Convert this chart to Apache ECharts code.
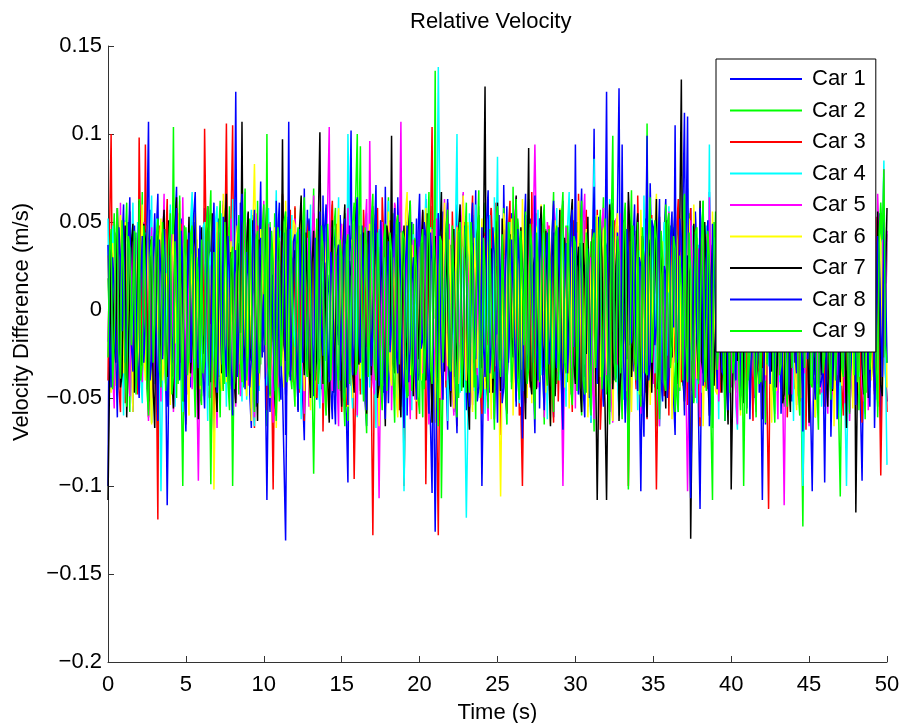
<!DOCTYPE html>
<html><head><meta charset="utf-8">
<script src="https://cdn.jsdelivr.net/npm/echarts@6/dist/echarts.min.js"></script>
<style>html,body{margin:0;padding:0;background:#fff}#c{width:905px;height:723px}</style>
</head><body><div id="c"></div>
<script>
// sampling step of the time axis (s)
const DT = 0.1;
const seriesNames = ['Car 1','Car 2','Car 3','Car 4','Car 5','Car 6','Car 7','Car 8','Car 9'];
const seriesColors = ['#0000ff','#00ff00','#ff0000','#00ffff','#ff00ff','#ffff00','#000000','#0000ff','#00ff00'];
const yTickLabels = ['\u22120.2','\u22120.15','\u22120.1','\u22120.05','0','0.05','0.1','0.15'];

// velocity differences (m/s), one value every DT seconds from t = 0 to t = 50
const car1 = [
-.100,.040,.021,-.008,-.035,.022,.048,-.030,-.012,.037,.060,-.019,-.042,.050,.015,-.024,-.058,.006,.033,-.045,
.005,.028,-.027,.013,.052,-.017,-.046,.057,.038,-.033,-.008,.044,.066,-.012,-.030,.025,.012,-.041,-.055,.010,
.041,-.006,-.018,.049,.070,-.028,-.039,.052,.024,-.036,-.063,.031,.009,-.044,.047,.004,-.022,-.009,.035,.021,
-.049,.012,.058,-.033,-.006,.045,.028,-.050,-.071,.009,.044,-.038,-.015,.030,.062,-.015,-.037,.047,.019,-.027,
-.052,.018,.124,-.020,-.033,.061,.040,-.023,-.011,.033,.055,-.048,-.067,.008,.026,-.055,-.040,.032,.073,-.012,
-.024,.039,.014,-.037,-.058,.020,.037,-.026,-.009,.044,.061,-.029,-.045,-.088,-.131,-.010,.030,.051,-.016,.008,
.049,-.014,-.036,.043,.022,-.051,-.074,.019,.057,-.030,-.003,.026,.042,-.017,-.051,.034,.018,-.045,.065,-.011,
-.029,.020,.008,-.046,-.062,.035,.046,-.008,-.020,.054,.034,-.025,-.047,-.060,-.098,.040,.102,-.034,-.013,.046,
.053,-.018,-.040,.035,.027,-.052,-.066,.024,.011,-.040,.059,.016,-.032,-.006,.045,.042,-.019,-.047,.070,-.008,
-.053,-.012,.031,.045,-.007,-.033,.064,.019,-.043,-.055,.017,.028,-.060,-.014,.038,.050,-.025,-.003,.052,-.040,
-.036,.033,.007,-.029,.063,-.020,-.048,-.066,-.104,.037,.029,-.012,.055,-.018,-.021,.056,.041,-.035,-.068,.022,
.016,-.030,-.039,.020,.060,-.043,-.012,.041,.047,-.009,-.057,.048,.023,-.038,-.030,.009,.068,-.052,-.044,-.016,
-.100,-.038,.035,.024,-.005,-.047,.058,.018,-.062,-.031,.020,.054,-.026,-.044,.071,.015,-.041,-.027,.010,.055,
.049,-.011,-.055,.046,.032,-.029,-.017,.040,.066,-.020,-.034,.052,.004,-.037,-.070,.018,.043,-.056,-.009,.030,
.056,-.020,-.046,.036,.025,-.043,-.061,.013,.038,-.032,-.014,.048,.062,-.022,-.028,.040,.013,-.040,-.052,.011,
.045,-.004,-.023,.040,.069,-.016,-.038,.052,.021,-.032,-.064,.020,.103,-.018,-.031,.043,.050,-.028,-.011,.039,
.036,-.027,-.058,.015,.061,-.040,-.020,.058,.126,-.012,-.042,.027,.018,-.048,-.067,.010,.047,-.035,-.006,.037,
.054,-.040,-.103,-.018,.030,.052,-.035,-.010,.072,.029,-.016,-.044,.040,.021,-.059,-.030,.009,.045,.063,-.038,
-.045,.031,.024,-.050,-.071,.020,.052,-.034,-.013,.059,.112,-.020,-.037,.042,.058,-.006,-.024,.056,.033,-.060,
-.113,-.025,.046,.029,-.008,-.042,.067,.017,-.050,-.019,.015,.048,-.033,-.010,.059,.021,-.063,-.038,.028,.042,
-.018,.044,.071,-.016,-.039,.048,.006,-.030,.055,.017,-.056,-.024,.037,.061,-.027,-.050,.064,.021,-.047,-.030,
.012,.050,-.065,-.012,.048,.036,-.010,-.046,.060,.021,-.036,-.015,.026,.049,-.054,-.028,.043,.015,-.021,-.052,
.069,.030,-.043,-.049,.019,.032,-.060,-.034,.051,.017,-.030,-.058,-.103,-.028,.038,.051,-.015,-.040,.062,.020,
-.049,-.013,.027,.044,-.072,-.030,.044,.052,-.005,-.043,.057,.019,-.038,-.053,.016,.048,-.058,-.040,.066,.023,
-.024,.047,.035,-.056,-.097,-.020,.050,.028,-.011,-.044,.063,.011,-.046,-.021,.022,.055,-.066,-.012,.041,-.036,
-.052];
const car2 = [
.018,-.009,-.032,.030,.055,-.022,-.047,.018,.026,-.041,-.013,.036,.061,-.014,-.058,.043,.009,-.027,.044,.015,
-.036,.025,.067,-.030,-.021,.048,.039,-.018,-.064,.033,.014,-.038,.052,.009,-.041,-.015,.030,.046,-.009,-.021,
.057,-.002,.104,-.026,-.050,.045,.022,-.041,-.100,-.012,.047,.021,-.026,-.038,.063,.014,-.035,.040,.011,-.048,
-.054,.019,.041,-.030,-.007,.047,.068,-.019,-.043,.050,.024,-.033,-.061,.012,.036,-.042,-.015,.031,.059,-.014,
-.100,-.025,.033,.010,-.048,.039,.070,-.044,-.019,.024,.045,-.031,-.056,.054,.012,-.026,.062,-.008,-.031,.045,
.027,-.021,-.066,.042,.050,-.018,-.004,.055,.038,-.028,-.052,.037,.065,-.010,-.023,.050,.016,-.036,-.045,.020,
.058,-.015,-.037,.044,.021,-.026,-.060,.035,.043,-.048,-.011,.022,.069,-.013,-.034,.040,.007,-.029,-.057,.018,
.048,-.038,-.028,.026,.060,-.020,-.049,.042,.032,-.046,-.018,.034,.055,-.029,-.063,.011,.019,-.051,.040,.065,
.100,-.017,-.046,.038,.025,-.044,-.070,.017,.041,-.033,-.008,.045,.057,-.022,-.030,.051,.014,-.036,-.053,.028,
.064,-.011,-.040,.055,.035,-.040,-.022,.014,.068,-.030,-.055,.042,.010,-.049,-.037,.020,.049,-.027,-.012,.039,
.031,-.024,-.061,.017,.046,-.040,-.027,.044,.059,-.005,.136,-.052,-.044,.046,-.107,-.038,.052,.027,-.019,-.045,
.037,-.016,-.058,.036,.020,-.050,-.033,.027,.066,-.041,-.047,.022,.013,-.036,.054,-.010,-.062,.044,.028,-.020,
-.014,.040,.061,-.023,-.039,.050,.023,-.033,-.068,.018,.044,-.045,-.006,.028,.058,-.036,-.050,.012,.017,-.041,
.070,-.026,-.032,.052,.040,-.017,-.057,.035,.009,-.044,.063,.021,-.045,-.040,.026,.055,-.020,-.033,.055,-.019,
-.065,.046,.034,-.028,-.011,.039,.067,-.018,-.042,.042,.018,-.035,-.053,.020,.048,-.041,-.029,.028,.061,-.015,
-.036,.050,.015,-.033,-.060,.018,.051,-.047,-.024,.027,.039,-.016,-.069,.053,.029,-.039,-.003,.033,.064,-.022,
-.048,.030,.022,-.042,.057,-.015,-.038,.048,.012,-.036,-.062,.022,.045,-.050,-.017,.029,.068,-.011,-.031,.045,
.036,-.015,-.054,.043,.008,-.037,.106,-.020,-.044,.050,.027,-.032,-.066,.017,.050,-.043,-.021,.031,.060,-.040,
-.039,.048,.019,-.031,-.058,.022,.047,-.046,-.012,.037,.065,-.015,-.034,.055,.030,-.040,-.052,.021,.041,-.028,
-.005,.044,.062,-.023,-.046,.032,.024,-.062,-.108,.020,.056,-.037,-.028,.049,.038,-.021,-.063,.035,.014,-.043,
.053,.018,-.035,-.047,.069,.028,-.019,-.040,.033,.051,-.059,-.022,.046,.033,-.009,-.045,.061,.020,-.042,-.027,
.028,.041,-.064,-.020,.044,.055,-.025,-.038,.057,.019,-.047,-.033,.012,.048,-.055,-.024,.067,.040,-.030,-.013,
.039,-.044,-.016,.025,.060,-.055,-.123,-.015,.022,.042,-.040,-.018,.052,.031,-.061,-.024,.035,.050,-.007,-.036,
.066,.024,-.050,-.039,.018,.045,-.033,-.022,.058,-.060,-.106,-.030,.041,.055,-.014,-.047,.063,.021,-.045,-.013,
.025,.052,-.057,-.032,.048,.040,-.022,-.047,.070,.024,-.038,-.028,.011,.051,-.061,-.018,.054,.036,-.027,-.010,
.043];
const car3 = [
-.040,.045,.100,-.016,-.022,.030,.047,-.044,-.058,.018,.031,-.053,-.009,.025,.056,-.015,-.044,.041,.020,-.048,
.098,.030,-.035,-.022,.094,.012,-.061,-.040,.027,-.045,-.013,-.030,-.119,.048,.042,-.019,-.026,.036,.063,-.012,
-.049,.024,.015,-.041,.058,-.018,-.033,.049,.039,-.032,-.065,.040,.021,-.023,-.007,.055,.050,-.028,-.054,.022,
.034,-.021,.103,.038,-.046,-.050,.025,.014,-.062,-.039,.044,.027,-.018,-.045,.060,.033,.106,-.010,-.037,.052,
.105,-.022,-.051,.030,.029,-.045,-.012,.020,.064,-.027,-.041,.046,.017,-.036,-.067,.012,.048,-.042,-.023,.031,
.038,-.018,-.057,.050,.010,-.035,-.102,-.020,.053,.038,-.030,-.012,.066,.040,-.045,-.026,.022,.057,-.008,-.041,
.059,.020,-.036,-.047,.031,.039,-.063,-.024,.045,.051,-.016,-.030,.055,.036,-.050,-.013,.024,.042,-.069,-.020,
.041,-.038,-.027,.046,.062,-.027,-.014,.049,.036,-.021,-.058,.037,.019,-.055,.068,.012,-.043,-.024,-.096,-.040,
.032,.048,-.048,-.029,.057,.036,-.021,-.010,.012,-.046,-.128,-.030,.046,.058,-.034,-.019,.064,.040,-.055,-.033,
.026,.051,-.003,-.020,.060,.044,-.040,-.057,.018,.028,-.100,-.041,.050,.016,-.025,-.049,.039,.035,-.062,-.012,
.014,-.019,.056,.028,-.099,-.024,.035,.045,.104,-.026,-.038,-.060,-.128,-.019,.043,.036,-.017,-.044,.061,.020,
-.047,.056,.023,-.039,-.066,.031,.052,-.018,-.009,.050,.037,-.024,-.056,.042,.065,-.037,-.029,.019,.011,-.045,
-.059,.033,.044,-.012,-.020,.047,.058,-.022,-.035,.061,.028,-.038,-.071,.020,.049,-.030,-.013,.045,.062,-.018,
-.042,-.027,.018,.043,-.060,-.055,-.100,-.030,.040,.016,-.024,-.044,.067,.024,-.052,-.015,.030,.052,-.006,-.033,
.054,-.021,-.039,.048,.021,-.036,-.064,.020,.045,-.052,-.015,.030,.060,-.017,-.046,.044,.033,-.027,-.058,.051,
.013,-.040,.066,.023,-.031,-.012,.042,.057,-.055,-.034,.025,.046,-.011,-.029,.057,.015,-.068,-.045,.036,.020,
-.022,.039,.061,-.020,-.044,.051,.019,-.033,-.057,.017,.048,-.047,-.008,.041,-.100,-.038,.034,.020,-.027,-.045,
.065,.022,-.049,-.035,.015,.048,-.062,-.025,.040,.054,-.018,-.028,-.102,-.040,.053,.016,-.035,-.049,.029,.037,
-.060,.024,.046,-.030,-.012,.045,.063,-.019,-.041,.051,.024,-.036,-.054,.028,.058,-.046,-.019,.014,.037,-.042,
-.066,.038,.020,-.044,-.030,.025,.052,-.012,-.047,.040,.014,-.026,.068,-.047,-.038,.055,.027,-.020,-.056,.034,
.043,-.027,-.009,.045,.061,-.018,-.050,.037,.032,-.044,-.024,.016,.057,-.030,-.063,.050,.011,-.035,.048,-.021,
-.033,.017,.066,-.050,-.113,-.026,.039,.050,-.016,-.037,.055,.022,-.045,-.014,.021,.044,-.061,-.030,.036,.053,
-.007,-.045,.059,.027,-.052,-.030,.028,.051,-.068,-.019,.044,.036,-.026,-.041,.062,.015,-.039,-.048,.017,.040,
-.055,.026,.050,-.039,-.014,.052,.067,-.018,-.043,.033,.030,-.044,-.060,.020,.038,-.036,-.021,.049,.056,-.019,
-.034,.047,.025,-.037,-.064,.016,.047,-.020,-.011,.044,.060,-.027,-.048,.053,.022,-.030,-.094,-.036,.041,-.020,
-.058];
const car4 = [
.052,-.020,-.029,.048,.014,-.038,-.047,.027,.038,-.014,-.060,.044,.023,-.041,-.011,.031,.061,-.013,-.035,.050,
.019,-.037,-.053,.020,.044,-.045,-.020,.035,.065,-.019,-.042,.052,.030,-.030,-.103,-.040,.048,.030,-.016,-.047,
.060,.022,-.039,-.055,.007,.039,.055,-.033,-.058,.044,.026,-.014,-.031,.050,.067,-.021,-.046,.035,.012,-.040,
-.024,.047,.050,-.018,-.063,.025,.033,-.040,-.009,.051,.059,-.022,-.037,.055,.041,-.013,-.055,.031,.018,-.043,
.063,-.036,-.028,.041,.045,-.017,-.052,.038,.022,-.051,-.014,.027,.057,-.040,-.066,.012,.035,-.046,-.003,.029,
.049,-.020,-.043,.058,.016,-.039,-.059,.022,.068,-.036,-.032,.045,.028,-.014,-.048,.053,.011,-.030,.054,-.012,
-.021,.044,.040,-.019,-.062,.051,.024,-.038,-.007,.027,.060,-.016,-.045,.034,.032,-.041,-.056,.028,.015,-.045,
.058,-.020,-.034,.033,.047,-.040,-.019,.022,.064,-.018,-.050,.041,.027,-.027,.100,.045,-.040,-.056,.020,.038,
-.061,.025,.038,-.048,-.013,.033,.055,-.019,-.044,.044,.023,-.036,-.067,.020,.046,-.049,-.025,.030,.009,-.021,
.062,-.022,-.036,.041,.030,-.049,-.057,.028,.017,-.040,-.103,-.048,.051,.027,-.022,-.057,.043,.015,-.049,.018,
.026,-.040,-.015,.035,.066,-.022,-.038,.047,.012,-.030,-.054,.040,.138,.060,-.041,-.016,.034,.049,-.063,-.012,
.021,-.030,-.008,.045,.100,-.026,-.047,.018,.036,-.055,-.118,-.060,.055,.015,-.027,-.046,.060,.020,-.033,-.042,
.014,.040,-.059,-.021,.045,.054,-.018,-.036,.064,.025,.087,-.012,-.042,.018,.029,-.045,-.065,.020,.050,-.034,
-.010,.043,.039,-.031,-.053,.018,.022,-.046,-.029,.027,.061,-.018,-.046,.049,.017,-.030,.057,-.024,-.037,.028,
.044,-.017,-.062,.037,.011,-.045,-.023,.022,.058,-.036,-.040,.051,.032,-.020,-.055,.048,.067,-.033,-.016,.041,
.027,-.036,-.048,.020,.053,-.015,-.031,.045,.006,-.038,-.064,.018,.086,-.020,-.026,.045,.041,-.023,-.052,.030,
.018,-.046,.063,.025,-.035,-.017,.047,-.040,-.060,.029,.024,-.051,-.013,.036,.056,-.024,-.044,.048,.030,-.015,
-.057,.034,.010,-.043,.065,.020,-.039,-.022,.037,.052,-.021,-.036,.052,.021,-.066,-.047,.028,.050,-.005,-.026,
.059,-.020,-.045,.047,.020,-.034,-.058,.017,.042,-.043,-.030,.030,.069,-.040,-.017,.048,.035,-.014,-.053,.037,
.013,-.047,-.037,.022,.048,-.022,.094,-.030,-.049,.044,.026,-.013,-.062,.051,.040,-.024,-.012,.035,.057,-.018,
-.041,.022,.031,-.055,-.068,.038,.021,-.040,-.024,.050,.061,-.020,-.043,.036,.016,-.037,-.054,.029,.047,-.024,
-.009,.045,.064,-.020,-.032,.053,.038,-.044,-.059,.031,.025,-.041,-.015,.026,.056,-.019,-.047,.044,.033,-.015,
-.063,.040,.019,-.022,.052,-.033,-.100,-.055,.043,.015,-.028,-.040,.060,.025,-.036,-.048,.011,.033,-.055,-.020,
.045,-.028,-.020,.042,.067,-.031,-.042,.050,.029,-.040,-.061,.013,.036,-.052,-.100,-.040,.050,.024,-.013,-.036,
.062,-.020,-.038,.049,.023,-.030,-.056,.044,.040,-.022,-.008,.036,.058,-.051,-.045,.011,.030,.040,.085,-.030,
-.088];
const car5 = [
-.018,.020,.043,-.035,-.056,.044,.027,-.013,.061,-.022,-.034,.041,.012,-.027,-.049,.022,.038,-.040,-.006,.030,
.055,-.018,-.041,.050,.022,-.036,-.063,.028,.047,-.050,-.015,.040,.030,-.014,-.052,.031,.066,-.042,-.028,.017,
.009,.043,-.058,-.024,.040,.055,-.024,-.030,.064,.011,-.037,-.048,.019,.030,-.045,-.015,.051,-.040,-.097,-.030,
.033,-.039,-.012,.027,.059,-.016,-.050,.045,.026,-.032,-.067,.025,.044,-.040,-.020,.041,.060,-.018,-.038,.052,
.015,-.028,-.055,.032,.048,-.049,-.009,.026,.067,-.012,-.043,.044,.023,-.030,-.061,.055,.036,-.025,-.017,.040,
.062,-.039,-.030,.049,.010,-.028,-.064,.023,.045,-.044,-.026,.032,.057,-.010,-.048,.041,.029,-.036,-.004,.027,
.052,-.022,-.039,.043,.018,-.030,-.059,.028,.041,-.055,-.013,.039,.065,-.016,-.035,.046,.025,-.031,-.053,.012,
.037,.060,.104,-.020,-.046,.035,.021,-.040,-.066,.016,.049,-.047,-.022,.038,.058,-.018,-.032,.049,.014,-.029,
-.060,.017,.043,-.030,-.008,.045,.063,-.022,.096,.020,-.041,-.048,.026,-.040,-.107,-.030,.050,.022,-.019,-.047,
.034,.050,-.057,-.021,.061,.042,-.028,.030,.107,-.020,-.044,.040,.017,-.030,-.062,.014,.040,-.051,-.011,.026,
.057,-.020,-.036,.047,.024,-.040,-.065,.029,.046,-.036,-.021,.052,.033,-.018,-.051,.038,.063,-.040,-.027,.049,
.011,-.044,-.060,.035,.048,-.020,-.015,.050,.067,-.026,-.040,.015,.028,-.043,-.054,.031,.020,-.037,.059,-.015,
-.033,.020,.042,-.040,-.063,.012,.016,-.047,-.007,.029,.055,-.034,-.047,.018,.031,-.044,-.058,.024,.045,-.020,
-.024,.052,.064,-.016,-.038,.040,.019,-.033,-.053,.045,.036,-.022,-.012,.050,.094,.040,-.044,-.017,.027,.042,
-.061,-.027,.050,.040,-.018,-.022,.060,.051,-.035,-.038,.013,-.040,-.100,-.030,.047,.016,-.026,-.048,.039,.022,
-.056,.044,.022,-.019,-.003,.050,.066,-.028,-.045,.018,.030,-.042,-.062,.022,.041,-.037,-.019,.050,.058,-.015,
-.037,.027,.015,-.048,-.064,.021,.052,-.031,-.023,.055,.035,-.020,-.050,.030,.062,-.044,-.030,.012,.009,-.039,
.046,-.027,-.059,.042,.024,-.047,-.014,.019,.061,-.033,-.042,.024,.037,-.048,-.066,.027,.018,-.040,-.008,.045,
.056,-.020,-.033,.029,.043,-.016,-.055,.048,.028,-.035,-.017,-.045,-.103,-.030,.051,.022,-.039,-.050,.021,.035,
-.061,-.025,.048,.030,-.013,-.045,.064,.020,-.036,-.022,.026,.049,-.052,-.023,.039,.047,-.006,-.034,.058,.021,
-.044,.037,.019,-.049,-.065,.028,.034,-.015,-.021,.050,.057,-.026,-.031,.024,.047,-.043,-.058,.031,.012,-.018,
.063,-.022,-.040,.046,.027,-.019,-.016,.042,.053,-.031,-.062,.050,.038,-.040,-.111,-.030,.045,.018,-.025,-.048,
.009,.036,-.054,-.021,.060,.045,-.029,-.036,.041,.019,-.066,-.027,.022,.050,-.010,-.042,.055,.028,-.047,-.016,
.032,-.040,-.059,.041,.017,-.048,.064,.030,-.037,-.014,.044,.031,-.022,-.053,.050,.020,-.063,-.038,.028,.044,
-.014,-.040,.061,.027,-.043,-.052,.020,.041,-.057,-.019,.035,.050,-.027,-.035,.066,.038,-.041,.020,.080,-.020,
.045];
const car6 = [
.031,-.015,-.047,.038,.016,-.043,-.022,.029,.054,-.012,-.036,.050,.008,-.020,.048,-.018,-.058,.040,.025,-.032,
-.013,.031,.060,-.024,-.040,.048,.021,-.027,-.065,.030,.037,-.016,-.005,.038,.052,-.040,-.031,.021,.014,-.036,
-.054,.030,.043,-.019,-.018,.045,.062,-.022,-.044,.038,.028,-.039,-.060,.032,.011,-.028,.057,.041,-.026,-.045,
.039,-.015,-.049,.050,.024,-.037,-.008,-.030,-.102,-.040,.050,.018,-.029,-.046,.066,.022,-.041,-.020,.017,.039,
-.057,-.016,.035,.048,-.015,-.031,.059,.030,-.038,-.049,.022,.016,-.063,.045,.083,.030,-.024,-.043,.046,.029,
-.010,-.038,.055,.033,-.050,-.014,.030,.047,-.067,-.030,.041,.020,-.019,-.044,.062,.028,-.035,-.018,.012,.051,
.048,-.022,-.028,.044,.064,-.012,-.046,.036,.019,-.041,-.057,.018,.037,-.050,-.011,.027,.053,-.020,-.042,.039,
.026,-.045,-.062,.022,.045,-.031,-.021,.041,.058,-.014,-.033,.048,.015,-.035,-.055,.027,.040,-.050,-.007,.033,
.063,-.020,-.039,.045,.021,-.038,-.059,.028,.049,-.010,-.016,.054,.034,-.025,-.066,.040,.027,-.043,-.024,.020,
.056,-.034,-.043,.030,.012,-.049,-.061,.016,.044,-.040,-.030,.055,.067,-.017,-.037,.037,.018,-.045,-.052,.022,
.036,-.040,-.009,.033,.058,-.024,-.048,.046,.023,-.035,-.064,.018,.040,-.050,-.017,.024,.061,-.013,-.032,.040,
.014,-.038,-.056,.021,.047,-.042,-.027,.035,.065,-.012,-.040,.050,.030,-.028,-.058,.041,.020,-.033,-.003,.027,
.052,-.023,-.045,.040,.029,-.018,-.062,.047,.042,-.032,-.014,-.050,-.106,-.030,.055,.045,-.036,-.017,.024,.052,
-.060,-.019,.038,.043,-.020,-.034,.063,.025,-.047,-.050,.016,.039,-.053,-.015,.049,.046,-.010,-.038,.060,.020,
-.034,-.047,.026,.016,-.065,-.030,.043,.051,-.023,-.035,.058,.027,-.041,-.044,.011,.040,-.056,-.020,.036,.033,
-.016,-.035,.062,.020,-.049,-.041,.031,.046,-.061,-.026,.020,.038,-.008,-.049,.054,.022,-.038,-.012,.045,.048,
-.027,-.040,.013,.026,-.063,-.019,.047,.055,-.019,-.033,.064,.021,-.044,-.046,.032,.039,-.058,-.014,.023,.044,
-.012,-.048,.057,.020,-.036,-.029,.041,.050,-.054,-.023,.018,.045,.066,-.036,-.030,.016,.039,-.042,-.047,.026,
.010,.037,-.062,-.018,.051,.040,-.025,-.044,.033,.020,-.057,-.033,.045,.052,-.015,-.029,.060,.024,-.039,-.017,
.027,.047,-.066,-.022,.043,.034,-.011,-.040,.056,.026,-.046,-.048,.021,.040,-.033,-.015,.062,.049,-.055,-.030,
.037,-.014,-.020,.041,.048,-.037,-.060,.022,.015,-.045,.064,.033,-.042,-.019,.029,.047,-.053,-.027,.008,.045,
.058,-.020,-.037,.051,.024,-.033,-.064,.019,.046,-.046,-.018,.037,.035,-.012,-.050,.044,.061,-.024,-.028,.039,
.016,-.038,-.057,.023,.042,-.050,-.009,.029,.063,-.018,-.045,.041,.030,-.037,-.061,.026,.019,-.045,-.034,.020,
.054,.040,-.023,-.013,.039,.046,-.066,-.034,.025,.022,-.012,-.043,.059,.051,-.048,-.019,.034,.040,-.056,-.026,
.047,-.048,-.030,.038,.017,-.029,-.059,.024,.065,-.037,-.040,.055,.022,-.021,-.052,.044,.038,-.047,.062,.020,
-.044];
const car7 = [
-.108,-.040,.035,.014,-.020,-.030,.058,.022,-.044,-.037,.027,.048,-.061,-.026,.015,.038,.049,-.047,-.033,.020,
.062,-.035,-.025,.049,.040,-.022,-.052,.040,.018,-.045,-.067,.027,.045,-.031,-.009,.043,.057,-.020,-.038,.051,
.022,-.037,-.056,.046,.064,-.018,-.030,.033,.011,-.052,-.047,.022,.053,-.036,-.019,.050,.036,-.024,-.062,.041,
.047,-.025,-.014,.042,.059,-.030,-.041,.055,.025,-.041,-.058,.017,.033,-.036,-.006,.048,.066,-.020,-.045,.033,
.017,-.040,-.053,.022,.038,-.013,.107,-.020,-.034,.038,.056,-.029,-.022,.051,.043,-.030,-.063,.040,.028,-.018,
-.010,.042,.061,-.031,-.048,.018,.020,-.050,-.060,.027,.039,-.012,.097,-.020,-.029,.045,.052,-.038,-.016,.029,
.034,-.024,-.057,.048,.065,-.020,-.037,.044,.013,-.033,-.050,.027,.045,-.040,-.024,.050,.101,-.010,-.042,.027,
.026,-.039,-.064,.023,.051,-.047,-.012,.031,.037,-.020,-.055,.040,.060,-.044,-.031,.028,.019,-.035,-.047,.052,
.063,-.031,-.021,.040,.044,-.018,-.059,.045,.030,-.037,-.008,.027,.055,-.050,-.043,.036,.016,-.022,-.066,.048,
.040,-.020,.099,-.030,-.036,.043,.024,-.041,-.061,.022,.048,-.034,-.015,.048,.062,-.017,-.049,.040,.032,-.028,
-.005,.035,.057,-.024,-.040,.055,.021,-.030,-.064,.027,.042,-.046,-.026,.038,.067,-.019,-.035,.044,.012,-.037,
-.055,.018,.046,-.038,-.018,.045,.060,-.022,-.044,.039,.029,-.050,-.068,.024,.038,-.030,-.011,.043,.054,-.026,
-.033,.040,.127,-.040,-.052,.025,.035,-.047,-.020,.036,.061,-.019,-.046,.052,.014,-.040,-.059,.028,.043,-.016,
-.027,.041,.065,-.022,-.039,.047,.022,-.033,-.062,.020,.092,-.040,-.048,.025,.031,-.045,-.013,.038,.059,-.020,
-.037,.045,.017,-.036,-.066,.030,.044,-.049,-.024,.018,.057,-.033,-.051,.041,.027,-.020,-.003,.050,.063,-.031,
-.042,.024,.036,-.044,-.058,.038,.019,-.025,.053,-.020,-.030,.046,.041,-.033,-.108,-.040,.048,.030,-.022,-.055,
-.108,-.030,.060,.046,-.045,-.020,.025,.040,-.063,-.036,.034,.051,-.016,-.028,.067,.044,-.038,-.017,.011,.037,
.055,-.020,-.049,.042,.028,-.038,-.061,.030,.040,-.047,-.009,.019,.063,-.045,-.033,.036,.020,-.024,-.056,.051,
.045,-.016,-.027,.040,.058,-.022,-.042,.048,.131,-.040,-.052,-.030,.031,.022,-.130,-.048,.049,.025,-.018,-.040,
.062,-.029,-.036,.050,.024,-.037,-.060,.018,.037,-.043,-.014,.033,.056,-.021,-.047,.040,.016,-.036,-.065,.041,
-.102,-.044,.043,.020,-.029,-.030,.061,.048,-.053,-.014,.022,.036,-.007,-.023,.050,.046,-.040,-.030,.034,.027,
-.062,-.037,.018,.046,.059,-.014,-.035,.033,.046,-.044,-.021,.024,.065,-.053,-.048,.030,.028,-.041,-.058,.020,
.039,-.030,-.012,.046,.057,-.027,-.044,.037,.023,-.018,-.064,.043,.048,-.037,-.026,.049,.061,-.021,-.037,.044,
.014,-.040,-.055,.029,.042,-.046,-.019,.022,.063,-.031,-.041,.055,.030,-.020,-.067,.043,.051,-.026,-.009,.038,
-.115,-.040,.044,.018,-.031,-.048,.060,.037,-.050,-.025,.025,.044,-.017,-.038,.056,.022,-.043,-.049,.035,.015,
.058];
const car8 = [
.037,-.019,-.044,.030,.012,-.026,-.061,.047,.029,-.012,.051,-.030,-.018,.035,.064,-.020,-.035,.048,.008,-.029,
-.050,.016,.042,-.030,-.007,.045,.107,-.040,-.029,.030,.055,-.020,-.063,.040,.020,-.028,.046,-.030,-.111,-.040,
.031,-.030,-.014,.041,.058,-.025,-.040,.045,.025,-.040,-.069,.020,.044,-.030,-.009,.054,.067,-.022,-.033,.048,
.016,-.037,-.056,.020,.039,-.043,-.024,.033,.061,-.018,-.047,.052,.005,-.031,.053,-.020,-.038,.042,.022,-.031,
-.060,.020,.034,-.038,-.012,.048,.066,-.025,-.045,.033,.019,-.044,-.028,.040,.057,-.016,-.053,.030,.041,-.027,
.009,-.040,-.108,-.030,.047,.034,-.020,-.046,.062,.022,-.037,-.051,.026,.044,-.071,-.020,.107,-.040,-.015,.039,
.043,-.019,-.058,.046,.011,-.030,.069,-.020,-.034,.052,.030,-.016,-.049,.041,.008,-.031,.056,-.010,-.026,.046,
.060,-.022,-.041,.033,.020,-.045,-.065,.021,.037,-.040,-.002,.030,.052,-.021,-.054,.048,.033,-.037,-.019,.044,
.064,-.016,-.030,.048,.015,-.037,-.057,.020,.045,-.032,-.011,.042,.071,-.025,-.043,.051,.024,-.039,-.062,.018,
.039,-.024,-.008,.040,.058,-.022,-.036,.050,.013,-.038,-.067,.027,.048,-.041,-.022,.015,.030,-.033,-.051,.044,
.066,-.022,-.017,.050,.042,-.030,-.059,.044,.027,-.040,-.126,-.040,.055,.020,-.033,-.051,.004,.042,.063,-.028,
-.046,.035,.021,-.044,-.070,.023,.050,-.036,-.014,.048,.036,-.020,-.055,.042,.061,-.017,-.028,.039,.010,-.045,
.047,-.021,-.038,.051,.068,-.036,-.021,.047,.032,-.023,-.064,.040,.017,-.053,-.044,.022,.059,-.030,-.006,.040,
.041,-.017,-.052,.046,.026,-.040,-.073,.016,.054,-.035,-.025,.047,.008,-.030,.065,-.020,-.040,.052,.029,-.037,
-.057,.029,.044,-.031,-.016,.044,.062,-.022,-.033,.047,.019,-.042,-.068,.025,.038,-.036,-.010,.049,.057,-.021,
.094,-.020,-.048,.038,.023,-.045,-.061,.019,.035,-.050,-.013,.038,.070,-.012,-.042,.053,.028,-.030,-.055,.025,
.124,-.040,-.027,.040,.051,-.015,-.039,.044,.012,-.027,.094,-.030,-.064,.046,.033,-.020,-.018,.038,.060,-.029,
-.046,.030,.025,-.047,-.072,.022,.099,-.040,-.031,.051,.047,-.020,-.009,.036,.063,-.040,-.052,.025,.021,-.050,
-.037,.040,.056,-.010,.105,-.030,-.023,.052,.041,-.020,-.060,.040,.110,-.055,-.107,-.040,.032,.043,-.015,-.027,
.058,.035,-.043,-.020,.027,.051,-.066,-.032,.049,.028,-.004,-.045,.064,.021,-.035,-.037,.018,.048,-.057,-.024,
.036,.045,-.021,-.040,.070,.028,-.049,-.016,.011,-.033,.053,.044,-.062,-.020,.029,.051,-.038,-.025,.061,-.040,
-.108,-.030,.043,.027,-.013,-.042,.067,.039,-.044,-.016,.022,.045,-.059,-.022,.050,.036,-.027,-.048,.008,.040,
.055,-.025,-.036,.046,.030,-.018,-.069,.044,.046,-.028,-.018,.051,.063,-.039,-.051,.030,.024,-.044,-.040,-.030,
-.098,-.020,.059,.038,-.023,-.045,.041,.024,-.062,-.036,.017,.049,-.033,-.019,.068,.042,-.045,-.030,.026,.050,
-.054,-.020,.048,.034,-.012,-.037,.061,.025,-.037,-.055,.031,.044,-.067,-.016,.042,.030,-.009,-.038,.056,.022,
-.030];
const car9 = [
-.027,.033,.046,-.045,-.014,.040,.058,-.025,-.039,.051,.021,-.037,-.055,.042,.035,-.020,.006,.045,-.048,-.016,
.063,-.040,-.031,.048,.019,-.045,-.060,.030,.042,-.030,-.008,.042,.051,-.034,-.044,.050,.028,-.046,-.019,.039,
.055,-.048,-.037,.039,.012,-.042,.065,-.020,-.052,.048,.030,-.037,-.024,.043,.048,-.030,-.061,.030,.016,-.043,
.040,-.036,-.029,.045,.059,-.027,-.099,-.020,.033,-.044,-.013,.044,.062,-.020,-.046,.050,.024,-.041,-.057,.029,
.036,-.045,-.006,.036,.054,-.028,-.041,.048,.069,-.040,-.026,.052,.014,-.033,-.058,.040,.045,-.036,-.017,.046,
.060,-.020,.100,-.030,-.049,.045,.027,-.038,-.063,.047,.038,-.032,-.010,.050,.056,-.041,-.034,.046,.020,-.038,
-.055,.037,.047,-.045,-.021,.049,.064,-.033,-.038,.045,.011,-.037,-.093,-.030,.052,-.042,-.027,.048,.035,-.044,
-.060,.049,.025,-.040,-.005,.047,.058,-.030,-.045,.040,.030,-.044,-.066,.037,.043,-.042,-.016,.050,.061,-.037,
-.032,.042,.093,-.020,-.052,.047,.037,-.038,-.011,.052,.066,-.031,-.040,.044,.017,-.040,-.057,.040,.049,-.046,
-.023,.044,.033,-.035,-.064,.049,.054,-.031,-.008,.045,.041,-.042,-.050,.038,.062,-.046,-.030,.041,.022,-.049,
-.059,.038,.046,-.045,-.015,.040,.067,-.033,-.042,.051,.026,-.039,-.066,.042,.039,-.030,-.004,.046,.057,-.032,
-.035,.048,.014,-.036,-.061,.044,.050,-.046,-.025,.039,.061,-.033,-.047,.050,.031,-.044,-.012,.039,.068,-.050,
-.044,.041,.023,-.030,-.056,.046,.045,-.039,-.019,.050,.059,-.028,-.038,.043,.008,-.033,-.065,.050,.040,-.045,
-.028,.035,.063,-.040,-.051,.045,.018,-.020,.056,-.042,-.033,.049,.036,-.037,-.062,.044,.027,-.041,-.009,.048,
.060,-.033,-.043,.046,.015,-.037,-.058,.042,.048,-.040,-.022,.051,.067,-.030,-.036,.048,.021,-.044,-.054,.042,
.038,-.046,-.014,.039,.062,-.040,-.048,.044,.029,-.030,-.060,.040,.044,-.033,-.007,.041,.057,-.045,-.030,.052,
.018,-.039,-.065,.047,.099,-.030,-.041,.042,.033,-.036,-.017,.049,.061,-.020,-.102,-.030,.045,.048,-.024,-.040,
.050,-.038,-.055,.047,.024,-.035,-.037,.042,.064,-.030,-.012,.051,.040,-.037,-.062,.045,.028,-.040,-.046,.049,
.055,-.033,-.020,.042,.035,-.048,-.058,.031,.013,-.040,.066,-.020,-.041,.044,.023,-.037,-.053,.044,.047,-.042,
-.010,.040,.062,-.041,-.035,.045,.030,-.038,-.067,.050,.041,-.034,-.018,.046,.056,-.033,-.048,.043,.014,-.047,
.064,-.036,-.029,.049,.038,-.040,-.057,-.020,-.100,-.030,.052,-.040,-.023,.047,.044,-.035,-.061,.044,.020,-.041,
-.040,.045,.059,-.031,-.013,.048,.036,-.044,-.064,.039,.048,-.037,-.031,.047,.025,-.042,-.055,.041,.062,-.033,
-.017,.046,.042,-.045,-.060,.044,.031,-.033,-.006,.046,.057,-.042,-.044,.036,.019,-.045,-.068,.044,.039,-.036,
-.026,.047,.053,-.030,-.051,.044,.028,-.040,-.011,.051,.065,-.033,-.038,.048,.046,-.035,-.059,.044,.022,-.037,
.058,-.041,-.034,.045,.010,-.036,-.062,.039,.049,-.034,-.020,.048,.037,-.033,-.055,.044,.061,.040,.080,-.020,
-.030];

const allCars = [car1, car2, car3, car4, car5, car6, car7, car8, car9];
const FONT = "'Liberation Sans', Arial, Helvetica, sans-serif";

const chart = echarts.init(document.getElementById('c'), null, {renderer: 'canvas'});
chart.setOption({
  animation: false,
  backgroundColor: '#ffffff',
  title: {
    text: 'Relative Velocity', left: 410, top: 11, padding: 0,
    textStyle: {fontFamily: FONT, fontSize: 22, fontWeight: 'normal', color: '#000'}
  },
  grid: {left: 108, right: 18, top: 46, bottom: 61, containLabel: false, outerBoundsMode: 'none'},
  legend: {
    data: seriesNames, orient: 'vertical', left: 716, top: 59,
    icon: 'rect', itemWidth: 72, itemHeight: 2, itemGap: 9.5,
    padding: [9, 10, 10, 14],
    backgroundColor: '#ffffff', borderColor: '#000000', borderWidth: 1,
    selectedMode: false,
    textStyle: {fontFamily: FONT, fontSize: 22, color: '#000', padding: [0, 0, 0, 5]}
  },
  xAxis: {
    type: 'value', min: 0, max: 50, interval: 5,
    name: 'Time (s)', nameLocation: 'middle', nameGap: 40,
    nameTextStyle: {fontFamily: FONT, fontSize: 22, color: '#000'},
    axisLine: {onZero: false, lineStyle: {color: '#333', width: 1}},
    axisTick: {inside: true, length: 6, lineStyle: {color: '#333'}},
    axisLabel: {fontFamily: FONT, fontSize: 22, color: '#000', margin: 12},
    splitLine: {show: false}
  },
  yAxis: {
    type: 'value', min: -0.2, max: 0.15, interval: 0.05,
    axisLine: {show: true, lineStyle: {color: '#333', width: 1}},
    axisTick: {show: true, inside: true, length: 6, lineStyle: {color: '#333'}},
    axisLabel: {
      fontFamily: FONT, fontSize: 22, color: '#000', margin: 6,
      formatter: function (v) { return yTickLabels[Math.round((v + 0.2) / 0.05)]; }
    },
    splitLine: {show: false}
  },
  graphic: [{
    type: 'text', x: 22, y: 322, rotation: Math.PI / 2,
    style: {text: 'Velocity Difference (m/s)', font: '22px ' + FONT, fill: '#000',
            align: 'center', verticalAlign: 'middle', textAlign: 'center', textVerticalAlign: 'middle'}
  }],
  series: allCars.map(function (vals, k) {
    return {
      name: seriesNames[k], type: 'line', symbol: 'none', showSymbol: false,
      color: seriesColors[k],
      lineStyle: {width: 1.5, color: seriesColors[k]},
      emphasis: {disabled: true}, silent: true,
      data: vals.map(function (v, i) { return [i * DT, v]; })
    };
  })
});
</script></body></html>
